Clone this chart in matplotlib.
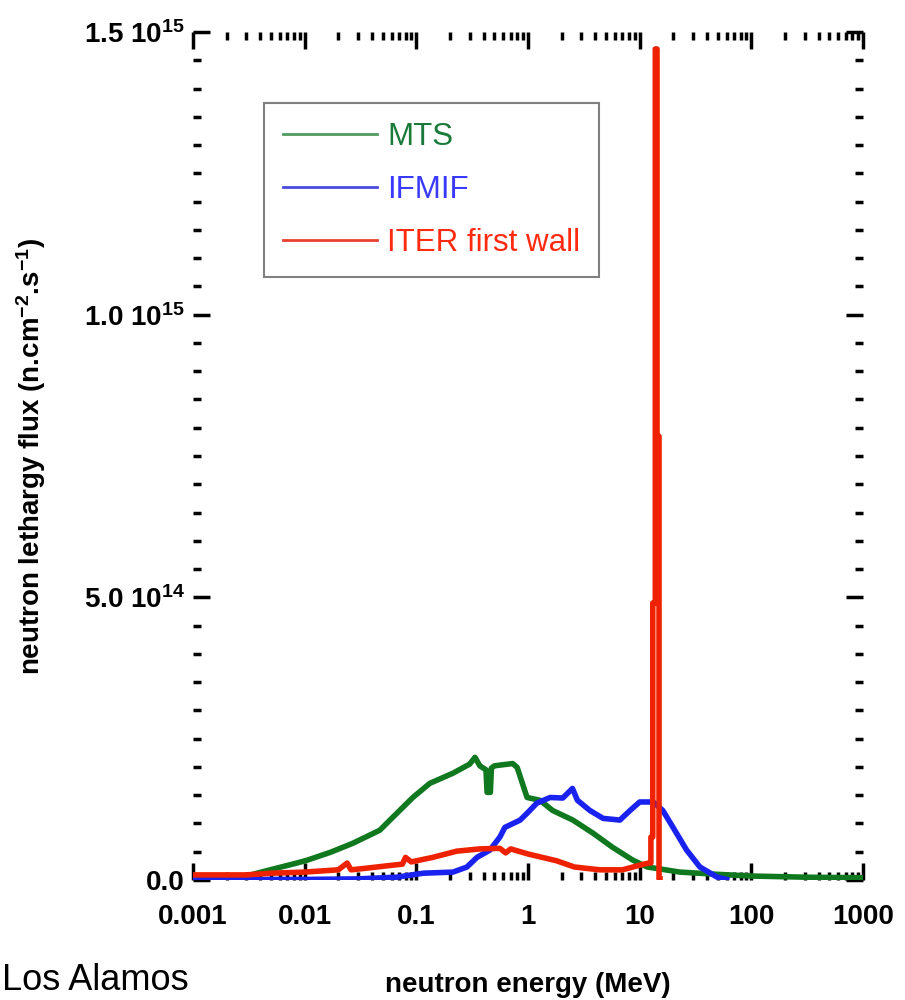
import numpy as np
import matplotlib.pyplot as plt
from matplotlib.lines import Line2D
from matplotlib.ticker import LogLocator, MultipleLocator, NullFormatter

plt.rcParams['font.family'] = ['Liberation Sans', 'DejaVu Sans']
plt.rcParams['mathtext.default'] = 'regular'

# MTS spectrum (energy in MeV, lethargy flux in n/cm2/s)
mts_e = [0.001, 0.002, 0.003, 0.0049, 0.0085, 0.0105, 0.017, 0.027, 0.047, 0.058,
         0.093, 0.132, 0.213, 0.30, 0.335, 0.37, 0.42, 0.43, 0.46, 0.47, 0.50,
         0.73, 0.80, 0.98, 1.28, 1.66, 2.52, 3.81, 5.7, 8.7, 11.7, 22.9, 50, 100, 300, 1000]
mts_flux = [5e12, 5e12, 7e12, 1.8e13, 3.0e13, 3.5e13, 4.9e13, 6.5e13, 8.8e13, 1.06e14,
            1.46e14, 1.71e14, 1.89e14, 2.05e14, 2.17e14, 2.02e14, 1.95e14, 1.55e14, 1.55e14, 1.98e14, 2.02e14,
            2.06e14, 1.99e14, 1.46e14, 1.41e14, 1.23e14, 1.06e14, 8.3e13, 5.8e13, 3.5e13, 2.3e13, 1.4e13, 1.0e13, 7e12, 5e12, 4e12]

# IFMIF spectrum
ifmif_e = [0.001, 0.01, 0.03, 0.067, 0.115, 0.213, 0.284, 0.349, 0.456, 0.56, 0.62,
           0.85, 0.98, 1.20, 1.58, 2.05, 2.5, 2.77, 3.58, 4.7, 6.65, 8.2, 10.0, 13.2,
           16.1, 19.9, 26.3, 34.6, 49.5, 60]
ifmif_flux = [1e12, 1e12, 2e12, 5e12, 1.2e13, 1.4e13, 2.3e13, 4.0e13, 5.3e13, 7.6e13, 9.3e13,
              1.06e14, 1.18e14, 1.36e14, 1.46e14, 1.45e14, 1.62e14, 1.41e14, 1.23e14, 1.09e14, 1.06e14, 1.23e14, 1.38e14, 1.38e14,
              1.23e14, 9.3e13, 5.3e13, 2.3e13, 5e12, 1e12]

# ITER first wall spectrum
iter_e = [0.001, 0.003, 0.005, 0.01, 0.02, 0.024, 0.026, 0.04, 0.06, 0.075, 0.08, 0.09,
          0.14, 0.23, 0.37, 0.56, 0.63, 0.7, 1.0, 1.8, 2.6, 4.4, 7.0, 9.5, 12.0,
          12.6, 12.6, 13.1, 13.1, 13.8, 13.8, 14.3, 14.3, 14.9, 14.9, 15.2]
iter_flux = [9e12, 9e12, 1.2e13, 1.4e13, 1.8e13, 3e13, 1.8e13, 2.2e13, 2.6e13, 2.8e13, 4e13, 3.2e13,
             4e13, 5.1e13, 5.5e13, 5.6e13, 4.8e13, 5.5e13, 4.6e13, 3.4e13, 2.3e13, 1.8e13, 1.8e13, 2.5e13, 3e13,
             3e13, 7.6e13, 7.6e13, 4.9e14, 4.9e14, 1.47e15, 1.47e15, 7.85e14, 7.85e14, 2e12, 2e12]

x_ticks = [0.001, 0.01, 0.1, 1, 10, 100, 1000]
x_tick_labels = ['0.001', '0.01', '0.1', '1', '10', '100', '1000']
y_ticks = [0, 5e14, 1e15, 1.5e15]
y_tick_labels = ['0.0', r'5.0 10$^{14}$', r'1.0 10$^{15}$', r'1.5 10$^{15}$']

fig = plt.figure(figsize=(9.05, 10), dpi=100)
ax = fig.add_axes([0.2133, 0.12, 0.7403, 0.848])

ax.plot(mts_e, mts_flux, color='#10781e', lw=4)
ax.plot(ifmif_e, ifmif_flux, color='#1a22f0', lw=4)
ax.plot(iter_e, iter_flux, color='#ee2200', lw=4)

ax.set_xscale('log')
ax.set_xlim(1e-3, 1e3)
ax.set_ylim(0, 1.5e15)
ax.set_xticks(x_ticks, x_tick_labels)
ax.xaxis.set_minor_locator(LogLocator(base=10, subs=np.arange(2, 10)))
ax.xaxis.set_minor_formatter(NullFormatter())
ax.set_yticks(y_ticks, y_tick_labels)
ax.yaxis.set_minor_locator(MultipleLocator(5e13))

for s in ax.spines.values():
    s.set_visible(False)

ax.tick_params(which='both', direction='in', top=True, right=True, width=2.5, color='black')
ax.tick_params(which='major', length=12)
ax.tick_params(which='minor', length=6)
ax.tick_params(axis='x', pad=17)
ax.tick_params(axis='y', pad=6)
for lab in ax.get_xticklabels() + ax.get_yticklabels():
    lab.set_fontsize(20)
    lab.set_fontweight('bold')

ax.set_xlabel('neutron energy (MeV)', fontsize=20, fontweight='bold')
ax.set_ylabel(r'neutron lethargy flux (n.cm$^{-2}$.s$^{-1}$)', fontsize=20, fontweight='bold')
ax.xaxis.set_label_coords(0.5, -0.108)
ax.yaxis.set_label_coords(-0.216, 0.5)

# legend uses thinner, lighter lines than the data
handles = [Line2D([], [], color='#4f9a5f', lw=2),
           Line2D([], [], color='#4a4adf', lw=2),
           Line2D([], [], color='#e84030', lw=2)]
leg = ax.legend(handles, ['MTS', 'IFMIF', 'ITER first wall'], loc='upper left',
                bbox_to_anchor=(0.106, 0.916), borderaxespad=0, fontsize=22.5,
                handlelength=3.0, handletextpad=0.35, labelspacing=0.74,
                borderpad=0.6, fancybox=False, edgecolor='#808080', framealpha=1)
leg.get_frame().set_linewidth(1.5)
for txt, c in zip(leg.get_texts(), ['#1a7a3a', '#3a3aff', '#ff2a10']):
    txt.set_color(c)

fig.text(0.002, 0.002, 'Los Alamos', fontsize=26, va='bottom', ha='left')

fig.savefig('out.png', dpi=100)
